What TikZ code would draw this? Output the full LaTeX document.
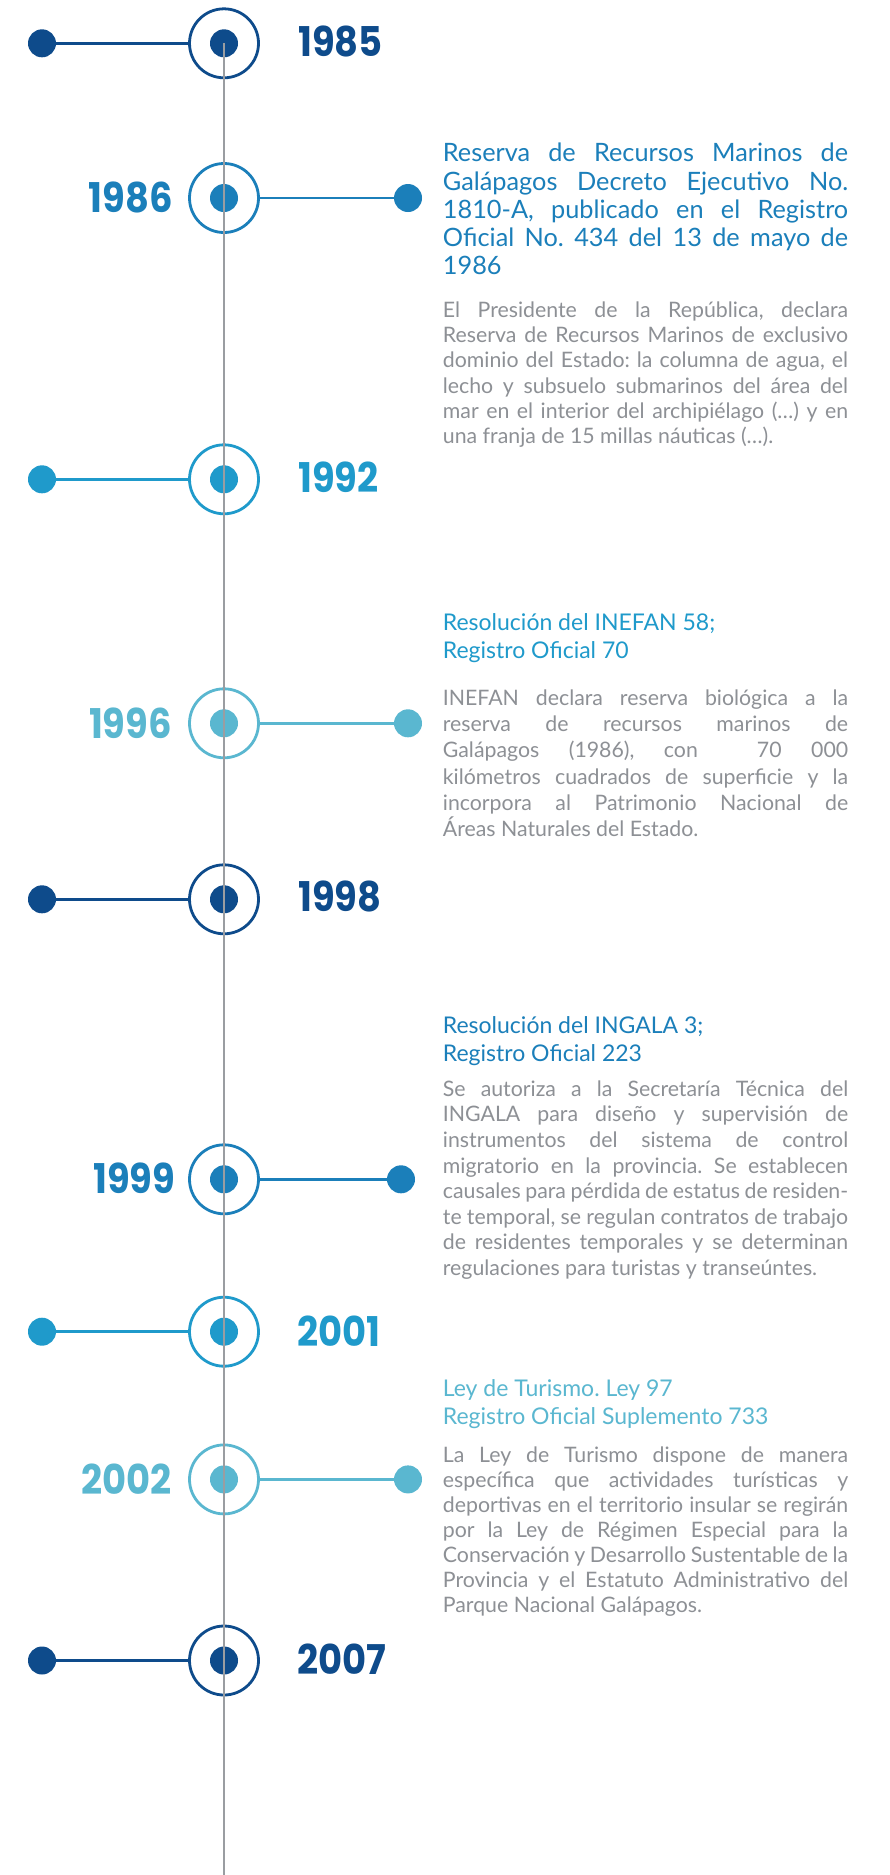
\documentclass[tikz,border=0pt]{standalone}
\usepackage{fontspec}
\setmainfont{Lato}
\newfontfamily\yearfont[FakeStretch=0.9]{Poppins}
\definecolor{tlnavy}{HTML}{0E4B8B}
\definecolor{tlblue}{HTML}{1B7FBA}
\definecolor{tlcyan}{HTML}{1F9ACB}
\definecolor{tlteal}{HTML}{5AB7D0}
\definecolor{tlaxis}{HTML}{9A9DA1}
\definecolor{tlgray}{HTML}{8D9095}
\newlength\blockw
\setlength\blockw{405.3pt}
\newcommand\tlsp{\spaceskip=0pt\xspaceskip=0pt\frenchspacing}
\newcommand\jl[1]{{\tlsp\makebox[\blockw][s]{#1}}\\}
\tikzset{
  ring/.style={circle, draw=#1, line width=2.8pt, fill=white, minimum size=69pt, inner sep=0pt},
  tldot/.style={circle, fill=#1, minimum size=28pt, inner sep=0pt},
  tlconn/.style={draw=#1, line width=2.8pt},
  tlaxisline/.style={draw=tlaxis, line width=2.6pt},
  yearR/.style={anchor=west, inner sep=0pt, text=#1, font=\yearfont\bfseries\fontsize{41}{41}\selectfont},
  yearL/.style={anchor=east, inner sep=0pt, text=#1, font=\yearfont\bfseries\fontsize{41}{41}\selectfont},
  tltitle/.style 2 args={anchor=north west, inner sep=0pt, text width=\blockw, align=left, text=#1, font=\fontsize{#2}{28.2}\selectfont},
  tlbody/.style={anchor=north west, inner sep=0pt, text width=\blockw, align=left, text=tlgray, font=\fontsize{21.3}{#1}\selectfont},
}
\newcommand\tlevent[4]{%
  \node[ring=#3] (c#1) at (224,#2) {};
  \node[tldot=#3] (d#1) at (224,#2) {};
  \node[tldot=#3] (e#1) at (#4,#2) {};
  \draw[tlconn=#3] (e#1) -- (c#1);
}
\begin{document}
\begin{tikzpicture}[x=1pt,y=-1pt]
\useasboundingbox (0,0) rectangle (890,1875);
\fill[white] (0,0) rectangle (890,1875);

\tlevent{85}{43.3}{tlnavy}{42}
\tlevent{86}{198}{tlblue}{408}
\tlevent{92}{479.3}{tlcyan}{42}
\tlevent{96}{723.3}{tlteal}{408}
\tlevent{98}{899.3}{tlnavy}{42}
\tlevent{99}{1179.3}{tlblue}{401}
\tlevent{01}{1331.7}{tlcyan}{42}
\tlevent{02}{1479.4}{tlteal}{408}
\tlevent{07}{1660.5}{tlnavy}{42}

\coordinate (axisend) at (224,1875);
\draw[tlaxisline] (d85.center) -- (axisend);

% years
\node[yearR=tlnavy] (y85) at (298,41) {1985};
\node[yearL=tlblue] (y86) at (173,197) {1986};
\node[yearR=tlcyan] (y92) at (298,477.5) {1992};
\node[yearL=tlteal] (y96) at (172,723) {1996};
\node[yearR=tlnavy] (y98) at (298,896.5) {1998};
\node[yearL=tlblue] (y99) at (175.5,1178.5) {1999};
\node[yearR=tlcyan] (y01) at (297,1331) {2001};
\node[yearL=tlteal] (y02) at (171.5,1479) {2002};
\node[yearR=tlnavy] (y07) at (297,1659) {2007};

% 1986 block
\node[tltitle={tlblue}{25.3}] (t86) at (442.7,139.7) {\tlsp\rule{0pt}{22pt}%
\jl{Reserva de Recursos Marinos de}
\jl{Galápagos Decreto Ejecutivo No.}
\jl{1810-A, publicado en el Registro}
\jl{Oficial No. 434 del 13 de mayo de}
1986};
\node[tlbody=25.2] (b86) at (442.7,299.3) {\tlsp\rule{0pt}{18pt}%
\jl{El Presidente de la República, declara}
\jl{Reserva de Recursos Marinos de exclusivo}
\jl{dominio del Estado: la columna de agua, el}
\jl{lecho y subsuelo submarinos del área del}
\jl{mar en el interior del archipiélago (…) y en}
una franja de 15 millas náuticas (…).};

% 1996 block
\node[tltitle={tlcyan}{23}] (t96) at (442.7,608) {\tlsp\rule{0pt}{22pt}%
Resolución del INEFAN 58;\\
Registro Oficial 70};
\node[tlbody=26.3] (b96) at (442.7,687) {\tlsp\rule{0pt}{18pt}%
\jl{INEFAN declara reserva biológica a la}
\jl{reserva de recursos marinos de}
\jl{Galápagos (1986), con \ 70~000}
\jl{kilómetros cuadrados de superficie y la}
\jl{incorpora al Patrimonio Nacional de}
Áreas Naturales del Estado.};

% 1999 block
\node[tltitle={tlblue}{23}] (t99) at (442.7,1011.3) {\tlsp\rule{0pt}{22pt}%
Resolución del INGALA 3;\\
Registro Oficial 223};
\node[tlbody=25.6] (b99) at (442.7,1078) {\tlsp\rule{0pt}{18pt}%
\jl{Se autoriza a la Secretaría Técnica del}
\jl{INGALA para diseño y supervisión de}
\jl{instrumentos del sistema de control}
\jl{migratorio en la provincia. Se establecen}
\jl{causales para pérdida de estatus de residen-}
\jl{te temporal, se regulan contratos de trabajo}
\jl{de residentes temporales y se determinan}
regulaciones para turistas y transeúntes.};

% 2002 block
\node[tltitle={tlteal}{23}] (t02) at (442.7,1374) {\tlsp\rule{0pt}{22pt}%
Ley de Turismo. Ley 97\\
Registro Oficial Suplemento 733};
\node[tlbody=25.0] (b02) at (442.7,1444) {\tlsp\rule{0pt}{18pt}%
\jl{La Ley de Turismo dispone de manera}
\jl{específica que actividades turísticas y}
\jl{deportivas en el territorio insular se regirán}
\jl{por la Ley de Régimen Especial para la}
\jl{Conservación y Desarrollo Sustentable de la}
\jl{Provincia y el Estatuto Administrativo del}
Parque Nacional Galápagos.};
\end{tikzpicture}
\end{document}
